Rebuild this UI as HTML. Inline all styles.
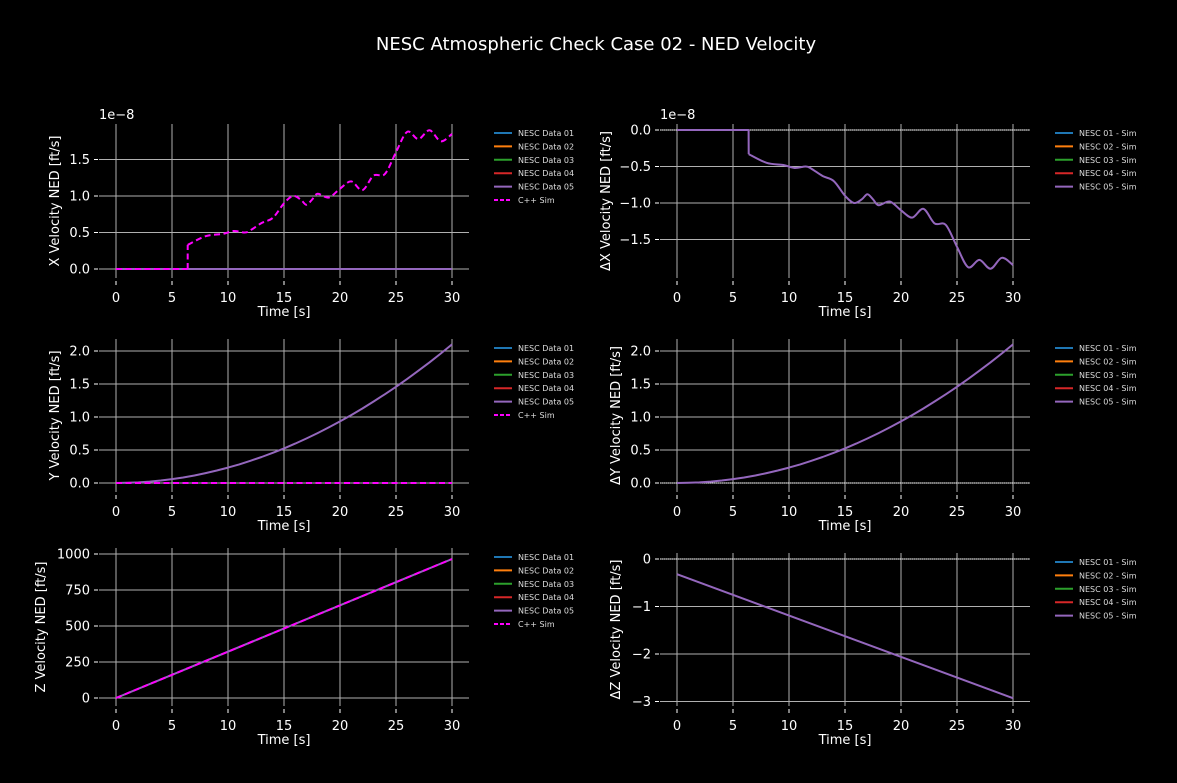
<!DOCTYPE html>
<html><head><meta charset="utf-8"><style>
html,body{margin:0;padding:0;background:#000;}
svg{display:block;font-family:"DejaVu Sans","Liberation Sans",sans-serif;}
</style></head><body>
<svg id="s" width="1177" height="783" xmlns="http://www.w3.org/2000/svg">
<rect width="1177" height="783" fill="#000"/>
<text x="596" y="50" fill="#fff" font-size="18" text-anchor="middle">NESC Atmospheric Check Case 02 - NED Velocity</text>
</svg>
<script>
const S=document.getElementById('s');let h='';
const cols=['#1f77b4','#ff7f0e','#2ca02c','#d62728','#9467bd'];
const seg1=[[0,0],[6.39,0]];
const seg2=[[6.4,0.33],[8,0.45],[9.5,0.48],[10.5,0.52],[11.5,0.5],[12,0.53],[13,0.63],[14,0.7],[15,0.9],[15.8,1.0],[16.5,0.95],[17,0.88],[17.5,0.95],[18,1.03],[19,0.98],[20,1.1],[21,1.2],[22,1.08],[23,1.28],[24,1.3],[25,1.6],[26,1.88],[27,1.78],[28,1.9],[29,1.75],[30,1.85]];
function smooth(pts){
 let d='M'+pts[0].join(',');
 for(let i=0;i<pts.length-1;i++){const p0=pts[i-1]||pts[i],p1=pts[i],p2=pts[i+1],p3=pts[i+2]||p2;
  const c1=[p1[0]+(p2[0]-p0[0])/6,p1[1]+(p2[1]-p0[1])/6],c2=[p2[0]-(p3[0]-p1[0])/6,p2[1]-(p3[1]-p1[1])/6];
  d+=` C${c1[0].toFixed(1)},${c1[1].toFixed(1)} ${c2[0].toFixed(1)},${c2[1].toFixed(1)} ${p2[0].toFixed(1)},${p2[1].toFixed(1)}`;}
 return d;}
function panel(o){
 const X=t=>o.x0+t*11.2;
 const Y=v=>o.y0+(v-o.v0)*o.k;
 for(let t=0;t<=30;t+=5){h+=`<line x1="${X(t)}" x2="${X(t)}" y1="${o.gt}" y2="${o.gb}" stroke="#b0b0b0" stroke-width="1"/>`;
  h+=`<line x1="${X(t)}" x2="${X(t)}" y1="${o.gb+3}" y2="${o.gb+7}" stroke="#fff"/>`;
  h+=`<text x="${X(t)}" y="${o.gb+24}" fill="#fff" font-size="13" text-anchor="middle">${t}</text>`;}
 o.ticks.forEach(([v,l])=>{const y=Y(v);h+=`<line x1="${o.x0-17}" x2="${o.x0+353}" y1="${y}" y2="${y}" stroke="#b0b0b0"/>`;
  h+=`<line x1="${o.x0-22}" x2="${o.x0-18}" y1="${y}" y2="${y}" stroke="#fff"/>`;
  h+=`<text x="${o.x0-26}" y="${y+4.5}" fill="#fff" font-size="13" text-anchor="end">${l}</text>`;});
 if(o.exp)h+=`<text x="${o.x0-17}" y="${o.gt-5}" fill="#fff" font-size="13">1e−8</text>`;
 h+=`<text x="${o.x0+168}" y="${o.gb+38}" fill="#fff" font-size="13" text-anchor="middle">Time [s]</text>`;
 const yc=(o.gt+o.gb)/2;
 h+=`<text transform="translate(${o.lx},${yc}) rotate(-90)" fill="#fff" font-size="13" text-anchor="middle">${o.ylab}</text>`;
 if(o.hline!==undefined)h+=`<line x1="${o.x0-17}" x2="${o.x0+353}" y1="${Y(o.hline)}" y2="${Y(o.hline)}" stroke="#fff" stroke-dasharray="1,1"/>`;
 o.series.forEach(s=>{const P=s.pts.map(([t,v])=>[X(t),Y(v)]);
  const d=s.sm?smooth(P):'M'+P.map(p=>p[0].toFixed(1)+','+p[1].toFixed(1)).join(' L');
  h+=`<path d="${d}" fill="none" stroke="${s.c}" stroke-width="2" ${s.d?'stroke-dasharray="6,3.5"':''} stroke-linejoin="round"/>`;});
 const lx=o.x0+378;
 o.leg.forEach((l,i)=>{const y=o.gt+9+i*13.4;
  h+=`<line x1="${lx}" x2="${lx+18}" y1="${y}" y2="${y}" stroke="${i<5?cols[i]:'#ff00ff'}" stroke-width="2" ${i==5?'stroke-dasharray="4,2"':''}/>`;
  h+=`<text x="${lx+24}" y="${y+3}" fill="#ddd" font-size="8">${l}</text>`;});
}
const legL=['NESC Data 01','NESC Data 02','NESC Data 03','NESC Data 04','NESC Data 05','C++ Sim'];
const legR=['NESC 01 - Sim','NESC 02 - Sim','NESC 03 - Sim','NESC 04 - Sim','NESC 05 - Sim'];
const flat=[[0,0],[30,0]];
const quad=[];for(let t=0;t<=30;t+=1)quad.push([t,2.1*(t/30)**2]);
const n1=seg1.map(([t,v])=>[t,-v]),n2=seg2.map(([t,v])=>[t,-v]);
panel({x0:116,y0:269,v0:0,k:-73,gt:124,gb:278,lx:59,exp:1,ylab:'X Velocity NED [ft/s]',
 ticks:[[0,'0.0'],[0.5,'0.5'],[1,'1.0'],[1.5,'1.5']],leg:legL,
 series:[{c:'#9467bd',pts:flat},{c:'#ff00ff',d:1,pts:seg1},{c:'#ff00ff',d:1,pts:[[6.4,0],[6.4,0.33]]},{c:'#ff00ff',d:1,sm:1,pts:seg2}]});
panel({x0:677,y0:130,v0:0,k:-73,gt:124,gb:278,lx:610,exp:1,hline:0,ylab:'ΔX Velocity NED [ft/s]',
 ticks:[[0,'0.0'],[-0.5,'−0.5'],[-1,'−1.0'],[-1.5,'−1.5']],leg:legR,
 series:[{c:'#9467bd',pts:n1.concat([[6.4,-0.33]])},{c:'#9467bd',sm:1,pts:n2}]});
panel({x0:116,y0:483,v0:0,k:-66,gt:339,gb:492,lx:59,ylab:'Y Velocity NED [ft/s]',
 ticks:[[0,'0.0'],[0.5,'0.5'],[1,'1.0'],[1.5,'1.5'],[2,'2.0']],leg:legL,
 series:[{c:'#9467bd',pts:quad},{c:'#ff00ff',d:1,pts:flat}]});
panel({x0:677,y0:483,v0:0,k:-66,gt:339,gb:492,lx:620,hline:0,ylab:'ΔY Velocity NED [ft/s]',
 ticks:[[0,'0.0'],[0.5,'0.5'],[1,'1.0'],[1.5,'1.5'],[2,'2.0']],leg:legR,
 series:[{c:'#9467bd',pts:quad}]});
panel({x0:116,y0:698,v0:0,k:-0.144,gt:548,gb:706,lx:45,ylab:'Z Velocity NED [ft/s]',
 ticks:[[0,'0'],[250,'250'],[500,'500'],[750,'750'],[1000,'1000']],leg:legL,
 series:[{c:'#9467bd',pts:[[0,0],[30,965]]},{c:'#ff00ff',d:1,pts:[[0,0],[30,965]]}]});
panel({x0:677,y0:559,v0:0,k:-47.5,gt:553,gb:706,lx:620,hline:0,ylab:'ΔZ Velocity NED [ft/s]',
 ticks:[[0,'0'],[-1,'−1'],[-2,'−2'],[-3,'−3']],leg:legR,
 series:[{c:'#9467bd',pts:[[0,-0.32],[30,-2.93]]}]});
S.insertAdjacentHTML('beforeend',h);
</script>
</body></html>
